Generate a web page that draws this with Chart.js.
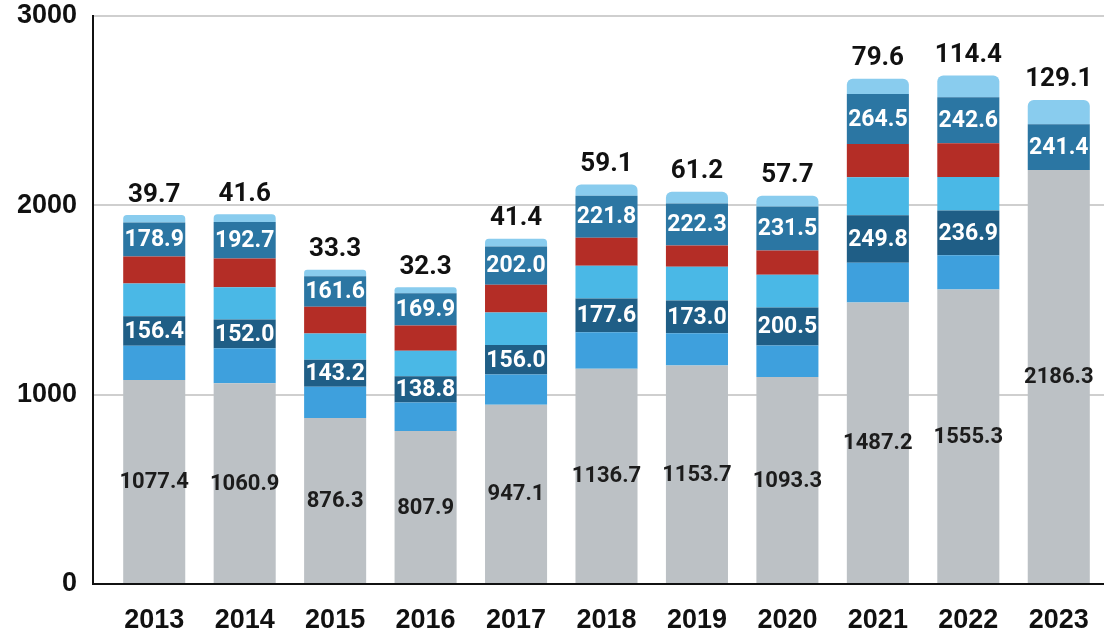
<!DOCTYPE html>
<html>
<head>
<meta charset="utf-8">
<script src="https://cdn.jsdelivr.net/npm/chart.js@4"></script>
<style>
  html,body{margin:0;padding:0;background:#fff;}
  #wrap{width:1104px;height:630px;position:relative;}
</style>
</head>
<body>
<div id="wrap"><canvas id="c"></canvas></div>
<script>
// 카테고리 / 시리즈 (아래 → 위 순서)
const YEARS=['2013','2014','2015','2016','2017','2018','2019','2020','2021','2022','2023'];
const BASE     =[1077.4,1060.9,876.3,807.9,947.1,1136.7,1153.7,1093.3,1487.2,1555.3,2186.3];
const MID_BLUE =[181,184,165,151,159,193,171,167,210,181,null];
const DARK_BLUE=[156.4,152.0,143.2,138.8,156.0,177.6,173.0,200.5,249.8,236.9,null];
const LIGHT_BLUE=[172,171,138,134,172,174,178,172,201,176,null];
const RED      =[143,151,142,134,146,148,112,129,176,179,null];
const STEEL    =[178.9,192.7,161.6,169.9,202.0,221.8,222.3,231.5,264.5,242.6,241.4];
const TOP      =[39.7,41.6,33.3,32.3,41.4,59.1,61.2,57.7,79.6,114.4,129.1];
const Y_TICKS  =[0,1000,2000,3000];

const COLORS=['#bcc1c5','#3ea0dd','#1f5e86','#4ab8e6','#b42d26','#2b76a3','#89ccee'];
const SERIES=[BASE,MID_BLUE,DARK_BLUE,LIGHT_BLUE,RED,STEEL,TOP];
// 라벨 표시 방식: dark / white / above / none
const LABEL_MODE=['dark','none','white','none','none','white','above'];

const AXIS_X=93;

const barLabels={
  id:'barLabels',
  afterDatasetsDraw(chart){
    const {ctx,chartArea:ca}=chart;
    ctx.save();
    // 축선
    ctx.strokeStyle='#111';ctx.lineWidth=2;
    ctx.beginPath();
    ctx.moveTo(AXIS_X,ca.top-1);ctx.lineTo(AXIS_X,ca.bottom);
    ctx.lineTo(ca.right,ca.bottom);
    ctx.stroke();
    // 값 라벨
    chart.data.datasets.forEach((ds,i)=>{
      const mode=LABEL_MODE[i];
      if(mode==='none')return;
      chart.getDatasetMeta(i).data.forEach((el,j)=>{
        const v=ds.data[j];
        if(v==null)return;
        ctx.textAlign='center';
        const txt=v.toFixed(1);
        if(mode==='above'){
          ctx.font='bold 26px Roboto';ctx.fillStyle='#111';ctx.textBaseline='bottom';
          ctx.fillText(txt,el.x,el.y-7);
        }else{
          ctx.textBaseline='middle';
          ctx.font=mode==='dark'?'bold 22px Roboto':'bold 23px Roboto';
          ctx.fillStyle=mode==='dark'?'#1c1c1c':'#fff';
          ctx.fillText(txt,el.x,(el.y+el.base)/2+1);
        }
      });
    });
    ctx.restore();
  }
};

new Chart(document.getElementById('c'),{
  type:'bar',
  data:{
    labels:YEARS,
    datasets:SERIES.map((d,i)=>({
      data:d,
      backgroundColor:COLORS[i],
      borderWidth:0,
      borderRadius:i===6?{topLeft:6,topRight:6,bottomLeft:0,bottomRight:0}:0,
      borderSkipped:false,
      barPercentage:0.686,
      categoryPercentage:1,
    }))
  },
  options:{
    responsive:true,maintainAspectRatio:false,animation:false,
    layout:{padding:{top:16,right:0,bottom:0,left:0}},
    plugins:{legend:{display:false},tooltip:{enabled:false}},
    scales:{
      x:{stacked:true,
        grid:{display:false},border:{display:false},
        ticks:{color:'#111',font:{family:'Liberation Sans',size:27,weight:'bold'},padding:12},
        afterFit(s){s.height=46;s.paddingLeft=0;s.paddingRight=0;}},
      y:{stacked:true,min:0,max:3000,
        afterBuildTicks(s){s.ticks=Y_TICKS.map(v=>({value:v}));},
        grid:{color:'#cfcfcf',lineWidth:2,tickLength:16,drawTicks:true},
        border:{display:false},
        ticks:{color:'#111',font:{family:'Liberation Sans',size:27,weight:'bold'},padding:16,
          callback:v=>String(v)},
        afterFit(s){s.width=109;s.paddingTop=0;s.paddingBottom=0;}}
    }
  },
  plugins:[barLabels]
});
</script>
</body>
</html>
